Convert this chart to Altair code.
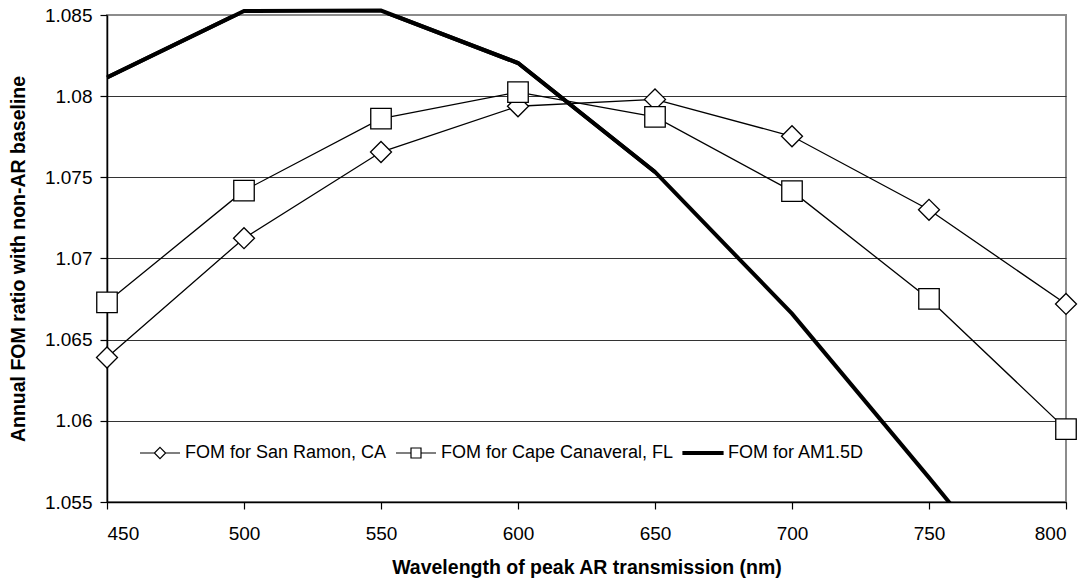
import altair as alt
import pandas as pd

# Peak AR transmission wavelengths (nm)
wavelength = [450, 500, 550, 600, 650, 700, 750, 800]

# Annual FOM ratio relative to the non-AR baseline
fom_san_ramon = [1.0639, 1.07125, 1.07656, 1.07938, 1.0798, 1.07753, 1.0730, 1.0672]
fom_cape_canaveral = [1.0673, 1.07418, 1.07862, 1.08025, 1.07872, 1.07415, 1.06751, 1.05949]
fom_am15d = [1.08115, 1.08525, 1.08527, 1.08204, 1.07533, 1.0666, 1.0565, 1.0462]

series_names = [
    "FOM for San Ramon, CA",
    "FOM for Cape Canaveral, FL",
    "FOM for AM1.5D",
]

y_ticks = [1.055, 1.06, 1.065, 1.07, 1.075, 1.08, 1.085]

rows = []
for name, vals in zip(series_names, [fom_san_ramon, fom_cape_canaveral, fom_am15d]):
    for w, v in zip(wavelength, vals):
        rows.append({"series": name, "wavelength": w, "fom": v})
df = pd.DataFrame(rows)

FONT = "Liberation Sans"

x_enc = alt.X(
    "wavelength:Q",
    scale=alt.Scale(domain=[450, 800], nice=False, zero=False),
    axis=alt.Axis(
        title="Wavelength of peak AR transmission (nm)",
        values=wavelength,
        format="d",
        grid=False,
        tickSize=7,
        labelPadding=15,
        titlePadding=15,
    ),
)
y_enc = alt.Y(
    "fom:Q",
    scale=alt.Scale(domain=[1.055, 1.085], nice=False, zero=False),
    axis=alt.Axis(
        title="Annual FOM ratio with non-AR baseline",
        values=y_ticks,
        labelExpr="format(datum.value, '.4~f')",
        grid=True,
        gridColor={
            "condition": {"test": "datum.value === 1.085", "value": "#8c8c8c"},
            "value": "#333333",
        },
        tickSize=7,
        labelPadding=8,
        titlePadding=16,
    ),
)

base = alt.Chart(df).encode(x=x_enc, y=y_enc)


def only(name):
    return alt.datum.series == name


sr_line = base.transform_filter(only(series_names[0])).mark_line(
    color="black", strokeWidth=1.3
)
sr_pts = base.transform_filter(only(series_names[0])).mark_point(
    shape="diamond", size=440, filled=True, fill="white", stroke="black",
    strokeWidth=1.3, opacity=1
)
cc_line = base.transform_filter(only(series_names[1])).mark_line(
    color="black", strokeWidth=1.3
)
cc_pts = base.transform_filter(only(series_names[1])).mark_point(
    shape="square", size=420, filled=True, fill="white", stroke="black",
    strokeWidth=1.3, opacity=1
)
# AM1.5D runs below the y range at long wavelengths: the full line is clipped
# to the plot, and its upper part is drawn again unclipped so the thick stroke
# near the top edge stays whole.
am = base.transform_filter(only(series_names[2]))
am_line_clipped = am.mark_line(color="black", strokeWidth=4, clip=True)
am_line_top = am.transform_filter(alt.datum.wavelength <= 650).mark_line(
    color="black", strokeWidth=4
)

# Legend-only layer: marker-on-line glyphs drawn as custom symbol paths
legend_paths = [
    "M-1,0L-0.28,0M0.28,0L1,0M0,-0.28L0.28,0L0,0.28L-0.28,0Z",
    "M-1,0L-0.25,0M0.25,0L1,0M-0.25,-0.25L0.25,-0.25L0.25,0.25L-0.25,0.25Z",
    "M-1,-0.07L1,-0.07L1,0.07L-1,0.07Z",
]
legend_opts = dict(
    title=None,
    orient="none",
    direction="horizontal",
    legendX=32,
    legendY=417,
    symbolSize=1600,
    symbolStrokeWidth=1.2,
    labelFont=FONT,
    labelFontSize=18,
    labelColor="black",
    labelLimit=400,
    labelOffset=4,
    columnPadding=6,
    padding=0,
)
legend_layer = (
    alt.Chart(df)
    .transform_filter("datum.fom < 0")
    .mark_point(filled=True, strokeWidth=1.2, opacity=1)
    .encode(
        x="wavelength:Q",
        y="fom:Q",
        shape=alt.Shape(
            "series:N",
            scale=alt.Scale(domain=series_names, range=legend_paths),
            legend=alt.Legend(**legend_opts),
        ),
        fill=alt.Fill(
            "series:N",
            scale=alt.Scale(domain=series_names, range=["white", "white", "black"]),
            legend=alt.Legend(**legend_opts),
        ),
        stroke=alt.Stroke(
            "series:N",
            scale=alt.Scale(domain=series_names, range=["black", "black", "black"]),
            legend=alt.Legend(**legend_opts),
        ),
    )
)

chart = (
    alt.layer(
        sr_line, sr_pts, cc_line, cc_pts, am_line_clipped, am_line_top, legend_layer
    )
    .properties(
        width=959,
        height=487,
        autosize=alt.AutoSizeParams(type="none"),
        padding={"left": 107, "top": 15, "right": 20, "bottom": 79},
        background="white",
    )
    .configure_view(stroke="#8c8c8c", strokeWidth=2)
    .configure_axis(
        labelFont=FONT,
        labelFontSize=19,
        labelColor="black",
        titleFont=FONT,
        titleFontSize=19.5,
        titleFontWeight="bold",
        titleColor="black",
        domainColor="black",
        domainWidth=1.5,
        tickColor="black",
        tickWidth=1.2,
        gridWidth=1,
    )
)

chart.save("out.html", embed_options={"renderer": "svg", "actions": False})
